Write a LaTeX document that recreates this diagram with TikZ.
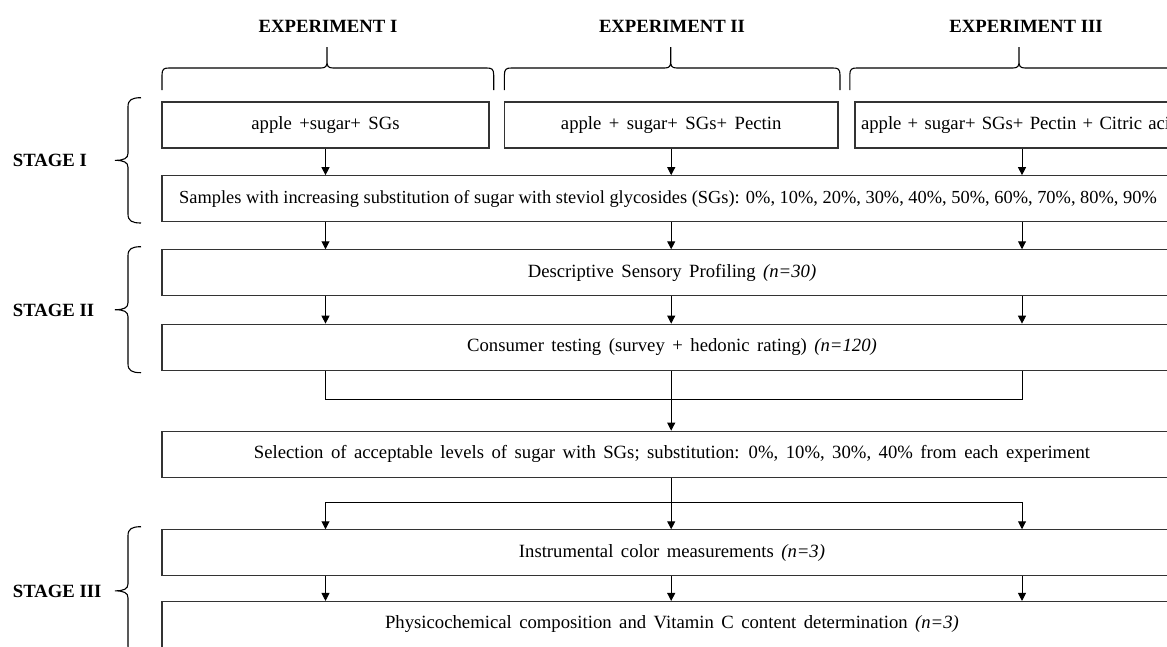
\documentclass[tikz,border=0pt]{standalone}
\usepackage{fontspec}
\setmainfont{Liberation Serif}
\usetikzlibrary{arrows.meta,calc}
\newcommand\widesp{\spaceskip=0.4em plus 0.1em\relax}
\newcommand\topbrace[3]{\draw[brc] (#1,90) -- (#1,75) .. controls (#1,69) and ({#1+2},68) .. ({#1+7},68) -- ({#2-6},68) .. controls ({#2-1},68) and (#2,66) .. (#2,61) -- (#2,47) (#2,61) .. controls (#2,66) and ({#2+1},68) .. ({#2+6},68) -- ({#3-7},68) .. controls ({#3-2},68) and (#3,69) .. (#3,75) -- (#3,90);}
\newcommand\stagebrace[2]{\draw[brc] (141,#1) .. controls (132,#1) and (128,{#1+2}) .. (128,{#1+9}) -- (128,{(#1+#2)/2-7}) .. controls (128,{(#1+#2)/2-2}) and (124,{(#1+#2)/2}) .. (115,{(#1+#2)/2}) .. controls (124,{(#1+#2)/2}) and (128,{(#1+#2)/2+2}) .. (128,{(#1+#2)/2+7}) -- (128,{#2-9}) .. controls (128,{#2-2}) and (132,#2) .. (141,#2);}
\begin{document}
\begin{tikzpicture}[x=1pt,y=-1pt,
  box/.style={draw=black!80,line width=1.1pt,minimum height=46pt,inner sep=0pt,font=\fontsize{18.7}{22}\selectfont\widesp},
  flow/.style={line width=1pt,-{Triangle[length=8pt,width=8pt]}},
  link/.style={line width=1pt},
  head/.style={font=\fontsize{18.7}{22}\selectfont\bfseries,inner sep=0pt},
  brc/.style={line width=1.1pt}]
\useasboundingbox (0,0) rectangle (1167,646);
% titles
\node[head] (e1) at (328,26.7) {EXPERIMENT I};
\node[head] (e2) at (672,26.7) {EXPERIMENT II};
\node[head] (e3) at (1026,26.7) {EXPERIMENT III};
\topbrace{162}{327}{493.7}
\topbrace{504.4}{670.7}{840}
\topbrace{849.8}{1019}{1189}
% boxes
\node[box,minimum width=327pt] (a1) at (325.5,125) {apple +sugar+ SGs};
\node[box,minimum width=333.6pt] (a2) at (671.2,125) {apple + sugar+ SGs+ Pectin};
\node[box,text width=322pt,align=left,inner xsep=6pt] (a3) at (1022,125) {apple + sugar+ SGs+ Pectin + Citric acid};
\node[box,minimum width=1020pt,font=\fontsize{18.4}{22}\selectfont] (samples) at (672,198.7) {\kern-8pt Samples with increasing substitution of sugar with steviol glycosides (SGs): 0\%, 10\%, 20\%, 30\%, 40\%, 50\%, 60\%, 70\%, 80\%, 90\%};
\node[box,minimum width=1020pt] (desc) at (672,272.8) {Descriptive Sensory Profiling \textit{(n=30)}};
\node[box,minimum width=1020pt] (cons) at (672,347.2) {Consumer testing (survey + hedonic rating) \textit{(n=120)}};
\node[box,minimum width=1020pt] (sel) at (672,454.2) {Selection of acceptable levels of sugar with SGs; substitution: 0\%, 10\%, 30\%, 40\% from each experiment};
\node[box,minimum width=1020pt] (inst) at (672,552.8) {Instrumental color measurements \textit{(n=3)}};
\node[box,minimum width=1020pt] (phys) at (672,624.5) {Physicochemical composition and Vitamin C content determination \textit{(n=3)}};
% stage labels
\node[head,anchor=west] (s1) at (12.7,160) {STAGE I};
\node[head,anchor=west] (s2) at (12.7,310) {STAGE II};
\node[head,anchor=west] (s3) at (12.7,591) {STAGE III};
\stagebrace{97.7}{223}
\stagebrace{246.7}{372.7}
\stagebrace{526.7}{655}
% connectors
\foreach \c in {a1,a2,a3}{
  \draw[flow] (\c.south) -- (\c.south |- samples.north);
  \draw[flow] (\c |- samples.south) -- (\c |- desc.north);
  \draw[flow] (\c |- desc.south) -- (\c |- cons.north);
  \draw[flow] (\c |- inst.south) -- (\c |- phys.north);
}
\coordinate (j) at (0,399);
\coordinate (sp) at (0,502.3);
\draw[link] (a1 |- cons.south) -- (a1 |- j) -- (a3 |- j) -- (a3 |- cons.south);
\draw[flow] (a2 |- cons.south) -- (a2 |- sel.north);
\draw[flow] (a2 |- sel.south) -- (a2 |- inst.north);
\draw[flow] (a2 |- sp) -- (a1 |- sp) -- (a1 |- inst.north);
\draw[flow] (a2 |- sp) -- (a3 |- sp) -- (a3 |- inst.north);
\end{tikzpicture}
\end{document}
